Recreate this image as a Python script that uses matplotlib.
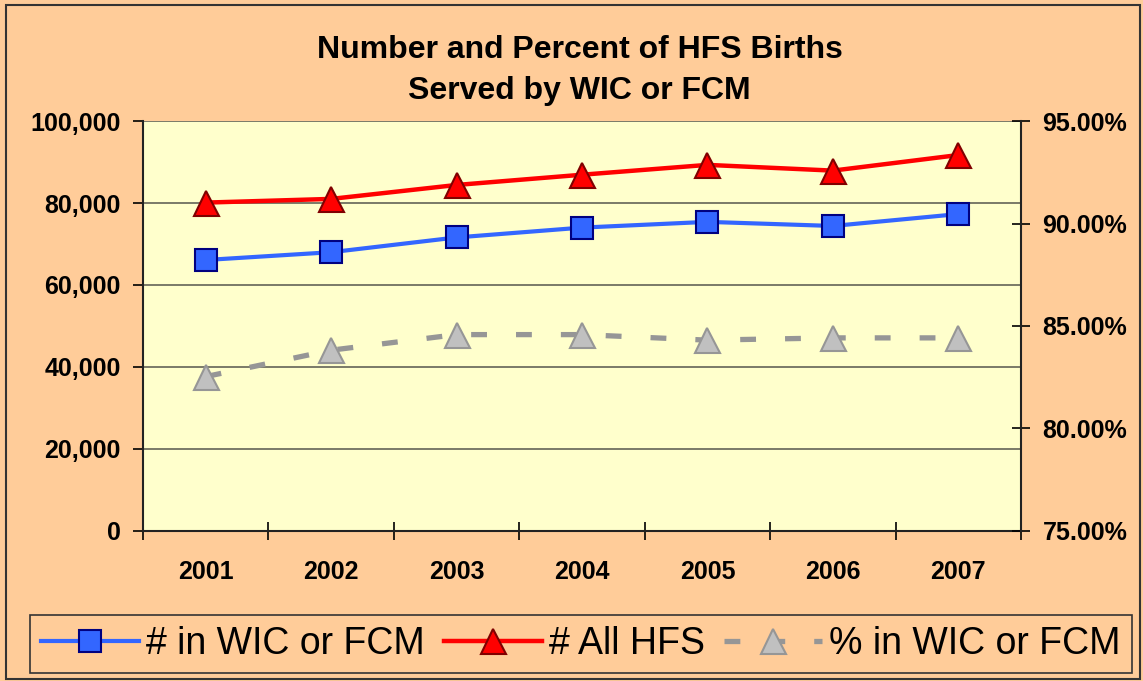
import matplotlib
matplotlib.use('Agg')
import matplotlib.pyplot as plt
from matplotlib.patches import Rectangle
from matplotlib.ticker import FuncFormatter, FixedLocator

# data
years = ['2001', '2002', '2003', '2004', '2005', '2006', '2007']
in_wic_fcm = [66100, 68000, 71600, 74000, 75400, 74400, 77300]
all_hfs = [80100, 81000, 84400, 86900, 89300, 87900, 91700]
pct_wic_fcm = [82.53, 83.82, 84.58, 84.58, 84.31, 84.42, 84.42]

left_ticks = [0, 20000, 40000, 60000, 80000, 100000]
right_ticks = [75, 80, 85, 90, 95]

plt.rcParams['font.family'] = ['Liberation Sans', 'DejaVu Sans']

bg = '#FFCC99'
plot_bg = '#FFFFCC'

fig = plt.figure(figsize=(11.43, 6.81), dpi=100, facecolor=bg)
ax = fig.add_axes([0.1251, 0.2203, 0.7682, 0.6020])
ax.set_facecolor(plot_bg)

x = list(range(len(years)))

l1, = ax.plot(x, in_wic_fcm, '-', color='#3366FF', lw=3.0,
              marker='s', ms=16, mfc='#3366FF', mec='#000080', mew=1.5,
              label='# in WIC or FCM', zorder=3)
l2, = ax.plot(x, all_hfs, '-', color='#FF0000', lw=3.2,
              marker='^', ms=18, mfc='#FF0000', mec='#800000', mew=1.5,
              label='# All HFS', zorder=3)

ax.set_xlim(-0.5, len(years) - 0.5)
ax.set_ylim(0, 100000)
ax.yaxis.set_major_locator(FixedLocator(left_ticks))
ax.yaxis.set_major_formatter(FuncFormatter(lambda v, p: f'{int(v):,}'))
ax.grid(axis='y', color='#707060', lw=1.3)
ax.set_axisbelow(True)

# category axis: ticks between categories, labels centred
ax.set_xticks([i - 0.5 for i in range(len(years) + 1)])
ax.set_xticklabels([])
ax.set_xticks(x, minor=True)
ax.set_xticklabels(years, minor=True, fontsize=18, fontweight='bold')
ax.tick_params(axis='x', which='major', direction='inout', length=13, width=1.2)
ax.tick_params(axis='x', which='minor', length=0, pad=21)
ax.tick_params(axis='y', direction='out', length=7, width=1.2, pad=9,
               labelsize=18)
for lab in ax.get_yticklabels():
    lab.set_fontweight('bold')

for s in ['top', 'right']:
    ax.spines[s].set_visible(False)
for s in ['left', 'bottom']:
    ax.spines[s].set_color('#222222')
    ax.spines[s].set_linewidth(1.5)

ax2 = ax.twinx()
l3, = ax2.plot(x, pct_wic_fcm, color='#969696', lw=3.8, dashes=(3, 5.5),
               marker='^', ms=18, mfc='#C0C0C0', mec='#969696', mew=1.5,
               label='% in WIC or FCM', zorder=3)
ax2.set_ylim(75, 95)
ax2.yaxis.set_major_locator(FixedLocator(right_ticks))
ax2.yaxis.set_major_formatter(FuncFormatter(lambda v, p: f'{v:.2f}%'))
ax2.tick_params(axis='y', direction='inout', length=13, width=1.2, pad=9,
                labelsize=18)
for lab in ax2.get_yticklabels():
    lab.set_fontweight('bold')
for s in ['top', 'left', 'bottom']:
    ax2.spines[s].set_visible(False)
ax2.spines['right'].set_color('#222222')
ax2.spines['right'].set_linewidth(1.5)

fig.text(0.507, 0.926, 'Number and Percent of HFS Births',
         ha='center', va='center', fontsize=23, fontweight='bold')
fig.text(0.507, 0.866, 'Served by WIC or FCM',
         ha='center', va='center', fontsize=23, fontweight='bold')

leg = fig.legend([l1, l2, l3], [l1.get_label(), l2.get_label(), l3.get_label()],
                 loc='center', bbox_to_anchor=(30 / 1143, 0.0543, 1102 / 1143, 0),
                 mode='expand', ncol=3,
                 fontsize=27, frameon=True, fancybox=False,
                 facecolor=bg, edgecolor='#333333', framealpha=1,
                 handlelength=2.6, handletextpad=0.2, columnspacing=0.4,
                 borderpad=0.3, borderaxespad=0)
leg.get_frame().set_linewidth(1.2)

fig.patches.append(Rectangle((0.005, 0.003), 0.992, 0.99, transform=fig.transFigure,
                             fill=False, edgecolor='#333333', lw=1.5))

fig.savefig('out.png', dpi=100, facecolor=bg)
